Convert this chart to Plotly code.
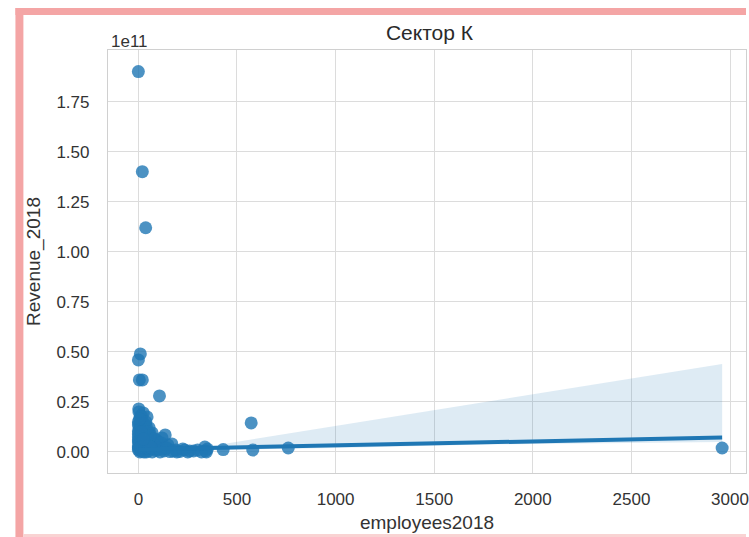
import plotly.graph_objects as go

# ---- data ----
employees2018 = [0, 20, 37, 10, 0, 5, 20, 107, 572, 2960, 760, 580, 430, 337, 340, 235, 195,
                 2, 25, 44, 10, 0, 15, 30, 5, 20, 40, 55, 0, 15, 35, 70, 136, 120, 0, 20, 45,
                 65, 90, 100, 0, 25, 50, 80, 110, 150, 170, 0, 15, 30, 50, 70, 90, 110, 130,
                 160, 190, 210, 260, 300, 8, 40, 60, 85, 140, 5, 12, 28, 3, 60, 350, 345,
                 0, 0, 0, 0, 0, 8, 8, 8, 8, 18, 18, 18, 18, 28, 28, 28, 38, 38, 38, 48, 48,
                 58, 58, 68, 75, 80, 95, 105, 115, 125, 145, 175, 225, 250, 280, 320, 12,
                 22, 32, 42, 52, 62, 6, 16, 26]
revenue_2018 = [1.90e11, 1.40e11, 1.12e11, 0.49e11, 0.46e11, 0.36e11, 0.36e11, 0.28e11, 0.145e11,
                0.02e11, 0.02e11, 0.01e11, 0.012e11, 0.025e11, 0.005e11, 0.01e11, 0.0,
                0.215e11, 0.195e11, 0.175e11, 0.18e11, 0.15e11, 0.16e11, 0.14e11, 0.12e11,
                0.12e11, 0.13e11, 0.12e11, 0.09e11, 0.095e11, 0.10e11, 0.095e11, 0.085e11,
                0.07e11, 0.06e11, 0.06e11, 0.07e11, 0.06e11, 0.06e11, 0.05e11, 0.03e11,
                0.035e11, 0.04e11, 0.035e11, 0.03e11, 0.035e11, 0.04e11, 0.01e11, 0.005e11,
                0.01e11, 0.005e11, 0.0, 0.008e11, 0.0, 0.005e11, 0.002e11, 0.01e11, 0.003e11,
                0.005e11, 0.01e11, 0.0, 0.0, 0.02e11, 0.015e11, 0.02e11, 0.045e11, 0.075e11,
                0.08e11, 0.20e11, 0.09e11, 0.015e11, 0.0,
                0.02e11, 0.05e11, 0.075e11, 0.105e11, 0.135e11, 0.015e11, 0.04e11, 0.11e11,
                0.14e11, 0.02e11, 0.045e11, 0.085e11, 0.175e11, 0.0, 0.05e11, 0.11e11,
                0.02e11, 0.06e11, 0.15e11, 0.02e11, 0.10e11, 0.04e11, 0.08e11, 0.02e11,
                0.045e11, 0.065e11, 0.02e11, 0.015e11, 0.045e11, 0.015e11, 0.02e11,
                0.005e11, 0.015e11, 0.0, 0.005e11, 0.0, 0.025e11, 0.025e11, 0.03e11,
                0.025e11, 0.03e11, 0.025e11, 0.165e11, 0.10e11, 0.065e11]

reg_x = [0, 2960]
reg_y = [0.013e11, 0.072e11]

band_x = [0, 200, 400, 1000, 1800, 2960]
band_upper = [0.02e11, 0.025e11, 0.035e11, 0.13e11, 0.26e11, 0.44e11]
band_lower = [0.005e11, 0.008e11, 0.01e11, 0.02e11, 0.038e11, 0.05e11]

x_ticks = [0, 500, 1000, 1500, 2000, 2500, 3000]
y_ticks = [0.00, 0.25, 0.50, 0.75, 1.00, 1.25, 1.50, 1.75]

SCALE = 1e11
BLUE = "#1f77b4"
FONT = "Liberation Sans, Arial, sans-serif"

fig = go.Figure()

fig.add_trace(go.Scatter(
    x=employees2018, y=[v / SCALE for v in revenue_2018], mode="markers",
    marker=dict(color=BLUE, size=13, opacity=0.8, line=dict(width=0)),
    showlegend=False, hoverinfo="skip"))

fig.add_trace(go.Scatter(
    x=band_x + band_x[::-1],
    y=[v / SCALE for v in band_upper] + [v / SCALE for v in band_lower[::-1]],
    mode="lines", line=dict(width=0), fill="toself",
    fillcolor="rgba(31,119,180,0.15)", showlegend=False, hoverinfo="skip"))

fig.add_trace(go.Scatter(
    x=reg_x, y=[v / SCALE for v in reg_y], mode="lines",
    line=dict(color=BLUE, width=4), showlegend=False, hoverinfo="skip"))

W, H = 749, 537
L, R, T, B = 108, 0, 50, 64
pw, ph = W - L - R, H - T - B


def px(xp):
    return (xp - L) / pw


def py(yp):
    return (H - B - yp) / ph


PINK = "#f4a5a5"
shapes = [
    dict(type="rect", xref="paper", yref="paper", x0=px(15), x1=px(23), y0=py(537), y1=py(8),
         fillcolor=PINK, line=dict(width=0), layer="above"),
    dict(type="rect", xref="paper", yref="paper", x0=px(15), x1=px(749), y0=py(15), y1=py(8),
         fillcolor=PINK, line=dict(width=0), layer="above"),
    dict(type="rect", xref="paper", yref="paper", x0=px(23), x1=px(749), y0=py(537), y1=py(534),
         fillcolor="#f9d3d3", line=dict(width=0), layer="above"),
]

fig.update_layout(
    width=W, height=H, margin=dict(l=L, r=R, t=T, b=B, pad=0),
    paper_bgcolor="white", plot_bgcolor="white",
    font=dict(family=FONT, color="#333333", size=17),
    title=dict(text="Сектор К", x=px(431), xanchor="center", xref="paper",
               y=1 - 33 / H, yanchor="middle", font=dict(size=21, color="#2a2a2a")),
    shapes=shapes,
    annotations=[dict(text="1e11", xref="paper", yref="paper", x=px(109), y=py(41),
                      xanchor="left", yanchor="middle", showarrow=False,
                      font=dict(size=17, color="#333333"))],
)

fig.update_xaxes(range=[-154, 3081], tickvals=x_ticks, ticktext=[str(t) for t in x_ticks],
                 showgrid=True, gridcolor="#dcdcdc", gridwidth=1.2, zeroline=False,
                 showline=True, linecolor="#d0d0d0", linewidth=1.2, mirror=True,
                 ticks="", ticklabelstandoff=10, ticklabeloverflow="allow",
                 title=dict(text="employees2018", font=dict(size=19, color="#333333"), standoff=8))
fig.update_yaxes(range=[-0.105, 2.008], tickvals=y_ticks, ticktext=[f"{t:.2f}" for t in y_ticks],
                 showgrid=True, gridcolor="#dcdcdc", gridwidth=1.2, zeroline=False,
                 showline=True, linecolor="#d0d0d0", linewidth=1.2, mirror=True,
                 ticks="", ticklabelstandoff=14,
                 title=dict(text="Revenue_2018", font=dict(size=19, color="#333333"), standoff=10))

fig.write_html("out.html")
